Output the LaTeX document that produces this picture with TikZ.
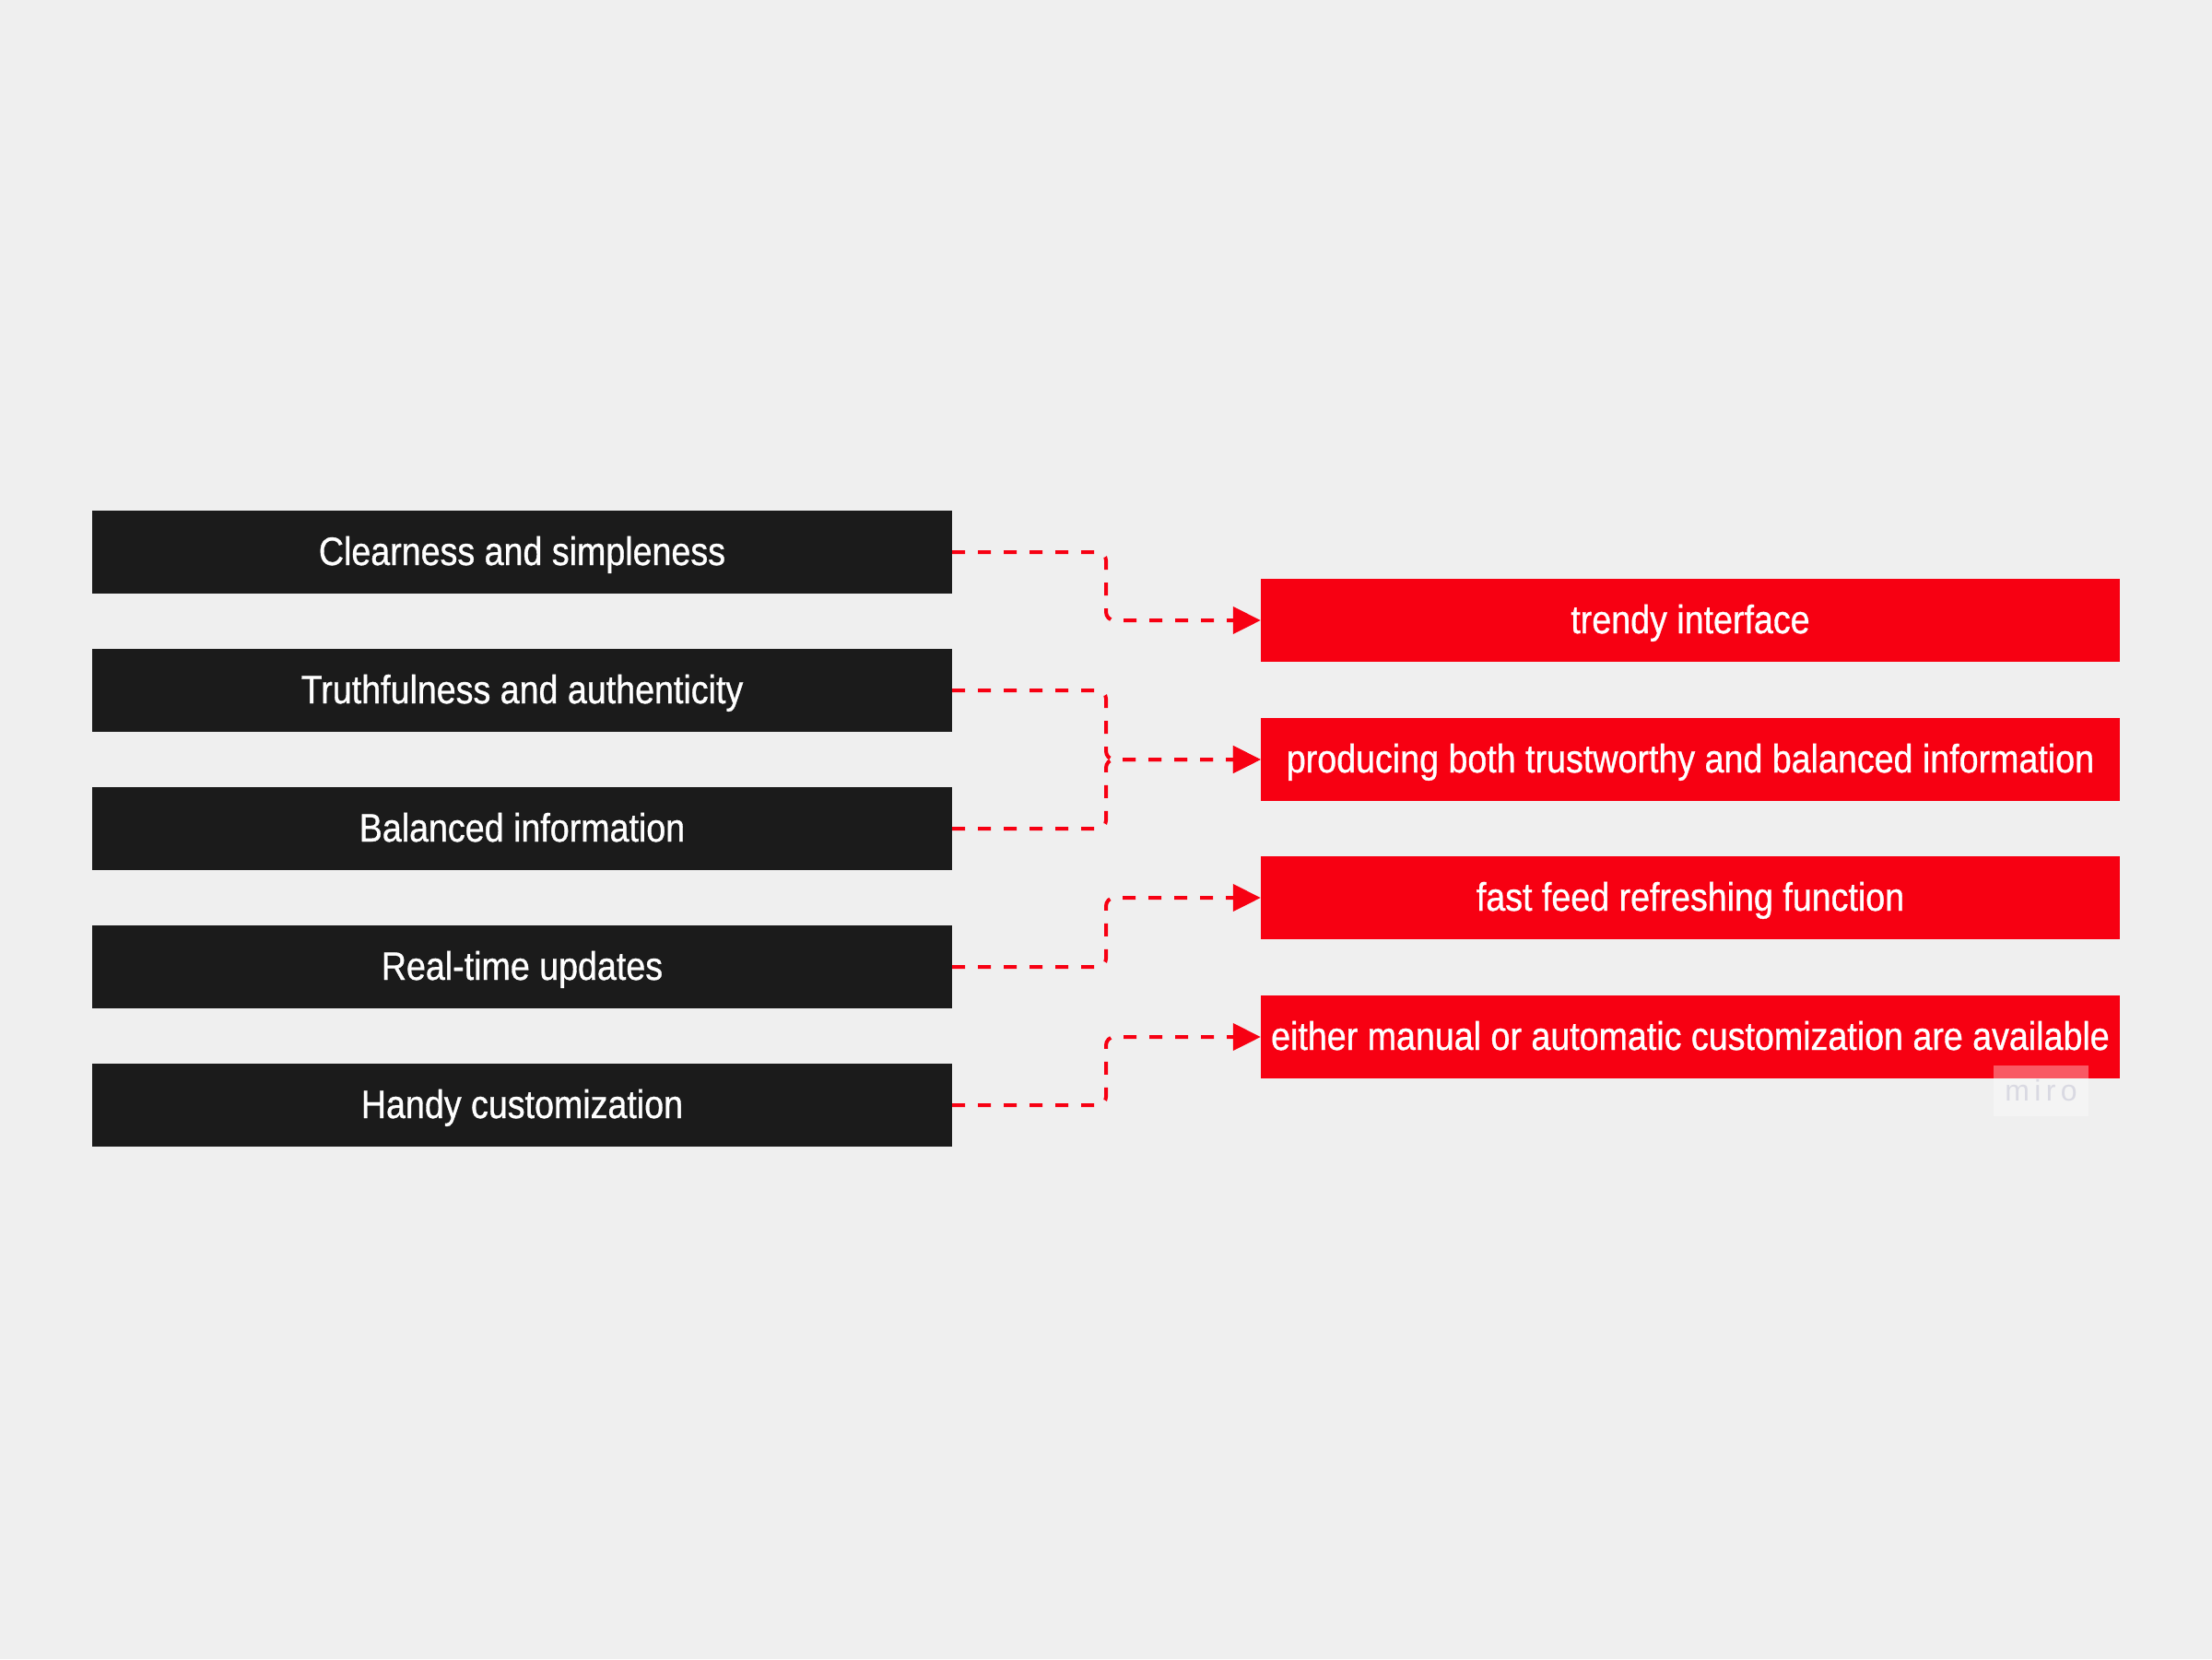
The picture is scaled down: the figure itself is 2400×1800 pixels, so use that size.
\documentclass[tikz,border=0pt]{standalone}
\usepackage{fontspec}
\setmainfont{Liberation Sans}[FakeStretch=0.875,FakeBold=0.8]
\newfontfamily\mirofont{Liberation Sans}
\usetikzlibrary{arrows.meta}
\definecolor{bg}{HTML}{EFEFEF}
\definecolor{boxblack}{HTML}{1B1B1B}
\definecolor{boxred}{HTML}{F70012}
\definecolor{mirogray}{HTML}{D9D9E2}
\begin{document}
\begin{tikzpicture}[x=1pt,y=-1pt,
  leftbox/.style={fill=boxblack,text=white,minimum width=933pt,minimum height=90pt,inner sep=0pt,text height=32pt,text depth=4pt,font=\fontsize{43}{48}\selectfont},
  rightbox/.style={fill=boxred,text=white,minimum width=932pt,minimum height=90pt,inner sep=0pt,text height=32pt,text depth=4pt,font=\fontsize{43}{48}\selectfont},
  link/.style={draw=boxred,line width=4pt,dash pattern=on 14pt off 14pt,rounded corners=9pt,-{Triangle[length=30pt,width=29pt]}}]
\fill[bg] (0,0) rectangle (2400,1800);
\useasboundingbox (0,0) rectangle (2400,1800);
\node[leftbox] (l1) at (566.5,599) {Clearness and simpleness};
\node[leftbox] (l2) at (566.5,749) {Truthfulness and authenticity};
\node[leftbox] (l3) at (566.5,899) {Balanced information};
\node[leftbox] (l4) at (566.5,1049) {Real-time updates};
\node[leftbox] (l5) at (566.5,1199) {Handy customization};
\node[rightbox] (r1) at (1834,673) {trendy interface};
\node[rightbox] (r2) at (1834,824) {producing both trustworthy and balanced information};
\node[rightbox] (r3) at (1834,974) {fast feed refreshing function};
\node[rightbox] (r4) at (1834,1125) {either manual or automatic customization are available};
\draw[link] (l1.east) -| (1200,673) -- (r1.west);
\draw[link] (l2.east) -| (1200,824) -- (r2.west);
\draw[link] (l3.east) -| (1200,824) -- (r2.west);
\draw[link] (l4.east) -| (1200,974) -- (r3.west);
\draw[link] (l5.east) -| (1200,1125) -- (r4.west);
\node[fill=white,fill opacity=0.35,text opacity=1,text=mirogray,minimum width=103pt,minimum height=55pt,inner sep=0pt,font=\mirofont\fontsize{32}{36}\selectfont] (miro) at (2214.5,1183.5) {m\,i\,r\,o};
\end{tikzpicture}
\end{document}
